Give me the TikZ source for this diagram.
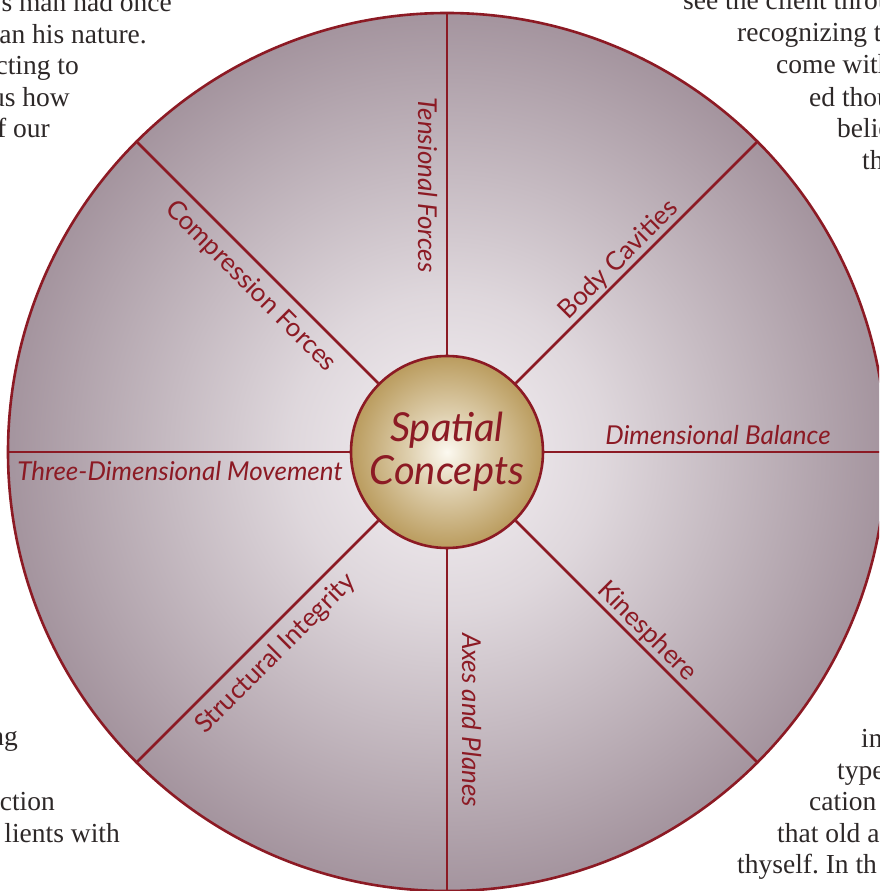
\documentclass[tikz,border=0pt]{standalone}
\usepackage{fontspec}
\setmainfont{Liberation Serif}
\newfontfamily\wheelfont{Lato}
\frenchspacing

\definecolor{wheelred}{RGB}{140,26,36}
\definecolor{rimmauve}{RGB}{164,148,158}
\definecolor{rimpale}{RGB}{245,241,244}
\definecolor{hubgold}{RGB}{186,156,94}
\definecolor{hubpale}{RGB}{252,249,240}
\definecolor{pagetext}{RGB}{45,40,40}

\pgfdeclareradialshading{wheelshade}{\pgfpoint{0bp}{0bp}}{%
  color(0bp)=(rimpale); color(9bp)=(rimpale!72!rimmauve);
  color(25bp)=(rimmauve); color(50bp)=(rimmauve)}
\pgfdeclareradialshading{hubshade}{\pgfpoint{0bp}{0bp}}{%
  color(0bp)=(hubpale); color(10bp)=(hubpale!55!hubgold);
  color(25bp)=(hubgold); color(50bp)=(hubgold)}

\tikzset{
  spoke/.style={wheelred, line width=2.6pt},
  wheeltext/.style={inner sep=0pt, anchor=base, text=wheelred, font=\wheelfont\fontsize{26}{30}\selectfont},
  wheeltextit/.style={wheeltext, font=\wheelfont\itshape\fontsize{26}{30}\selectfont},
  pageline/.style={inner sep=0pt, text=pagetext, font=\fontsize{27.5}{31}\selectfont}
}

\begin{document}
\begin{tikzpicture}[x=1pt, y=1pt]
	\useasboundingbox (-447,-439) rectangle (432,452);
	\clip (-447,-439) rectangle (432,452);

	% page text round the wheel
	\node [pageline, anchor=base east] at (-275, 440) (l1) {s man had once};
	\node [pageline, anchor=base east] at (-300, 408) (l2) {an his nature.};
	\node [pageline, anchor=base east] at (-368, 377) (l3) {cting to};
	\node [pageline, anchor=base east] at (-377, 345) (l4) {us how};
	\node [pageline, anchor=base east] at (-397, 314) (l5) {f our};
	\node [pageline, anchor=base east] at (-429, -293) (l6) {ng};
	\node [pageline, anchor=base east] at (-392, -358) (l7) {ction};
	\node [pageline, anchor=base east] at (-327, -390) (l8) {lients with};

	\node [pageline, anchor=base west] at (236, 442) (r1) {see the client throu};
	\node [pageline, anchor=base west] at (290, 410) (r2) {recognizing the};
	\node [pageline, anchor=base west] at (329, 378) (r3) {come with};
	\node [pageline, anchor=base west] at (362, 345) (r4) {ed thou};
	\node [pageline, anchor=base west] at (390, 314) (r5) {belie};
	\node [pageline, anchor=base west] at (415, 282) (r6) {th};
	\node [pageline, anchor=base west] at (414, -295) (r7) {in};
	\node [pageline, anchor=base west] at (390, -327) (r8) {type};
	\node [pageline, anchor=base west] at (362, -358) (r9) {cation};
	\node [pageline, anchor=base west] at (330, -390) (r10) {that old a};
	\node [pageline, anchor=base west] at (290, -421) (r11) {thyself. In th};

	% wheel
	\node [circle, minimum size=878pt, inner sep=0pt, draw=wheelred, line width=2.6pt,
	       shading=wheelshade] at (0, 0) (rim) {};
	\node [circle, minimum size=192pt, inner sep=0pt, draw=wheelred, line width=2.6pt,
	       shading=hubshade, align=center, text=wheelred,
	       font=\wheelfont\itshape\fontsize{40}{43}\selectfont] at (0, 0) (hub) {Spatial\\Concepts};

	\foreach \a in {0,45,...,315}
		\draw [spoke] (hub.\a) -- (rim.\a);

	% spoke labels
	\path (90:267) ++(180:29) node [wheeltextit, rotate=-90] (tensional) {Tensional Forces};
	\path (45:257) ++(135:7) node [wheeltext, rotate=45] (cavities) {Body Cavities};
	\path (0:271) ++(90:7) node [wheeltextit] (balance) {Dimensional Balance};
	\path (-45:268) ++(45:7) node [wheeltext, rotate=-45] (kinesphere) {Kinesphere};
	\path (-90:268) ++(0:15) node [wheeltextit, rotate=-90] (axes) {Axes and Planes};
	\path (225:264) ++(315:29) node [wheeltext, rotate=45] (integrity) {Structural Integrity};
	\path (180:267) ++(270:29) node [wheeltextit] (movement) {Three-Dimensional Movement};
	\path (135:256) ++(225:29) node [wheeltext, rotate=-45] (compression) {Compression Forces};
\end{tikzpicture}
\end{document}
